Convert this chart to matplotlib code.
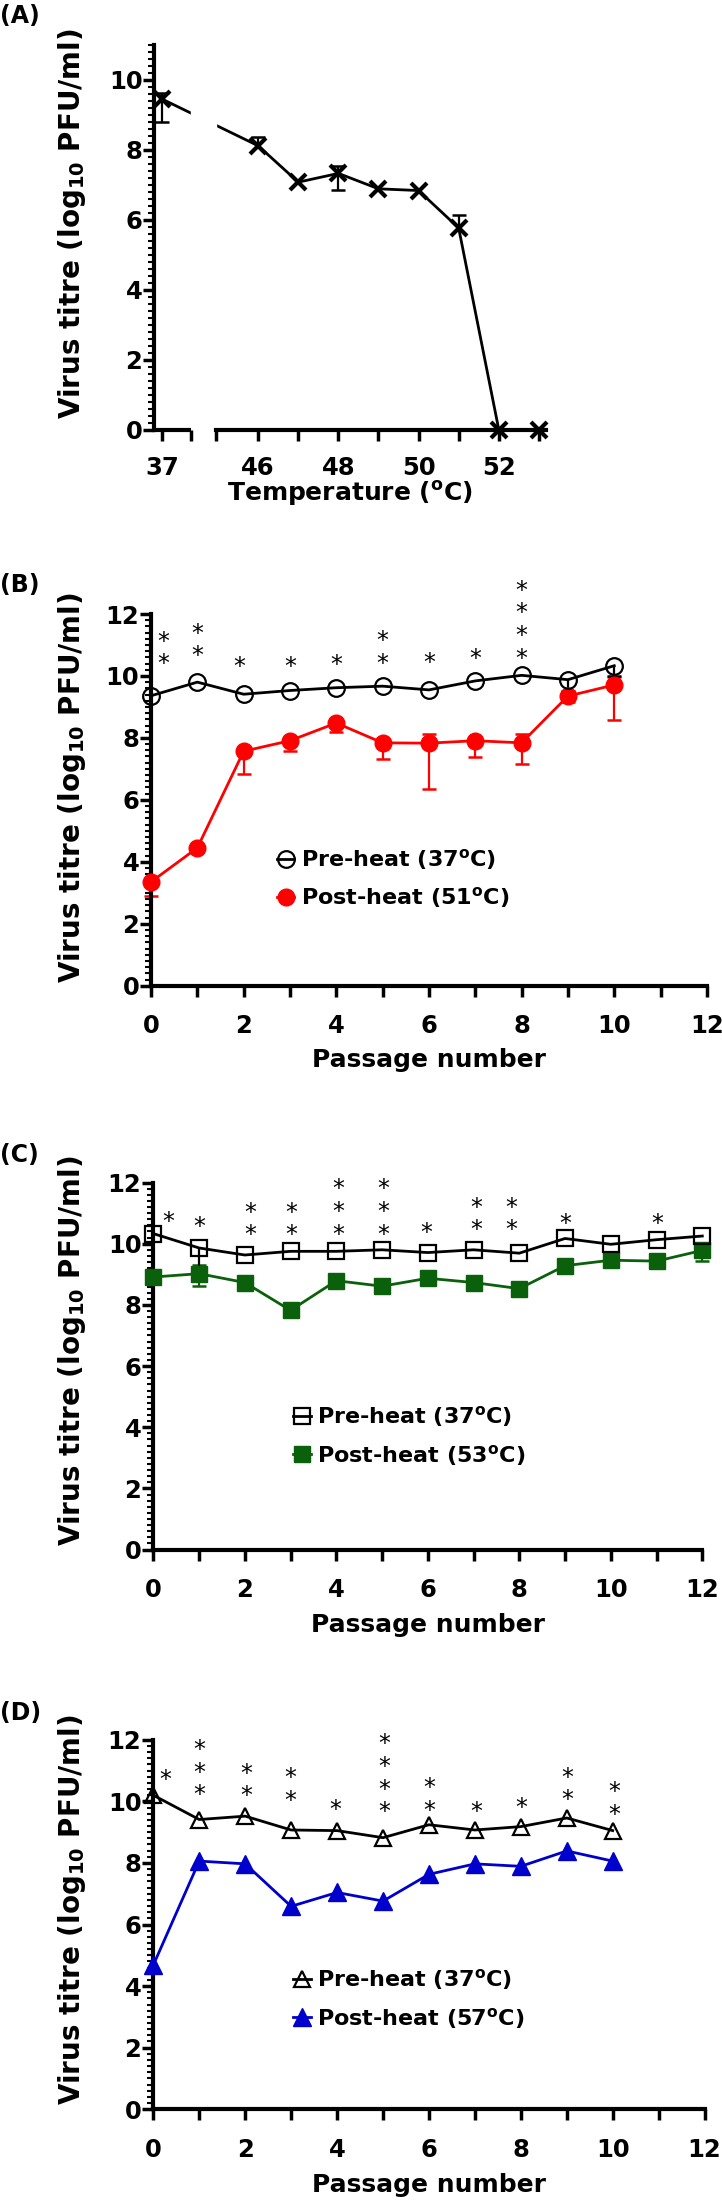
import numpy as np
import matplotlib
matplotlib.use('Agg')
import matplotlib.pyplot as plt
from matplotlib.ticker import MultipleLocator

plt.rcParams['font.family'] = ['DejaVu Sans']
plt.rcParams['font.weight'] = 'bold'
plt.rcParams['axes.labelweight'] = 'bold'
plt.rcParams['mathtext.fontset'] = 'custom'
plt.rcParams['mathtext.rm'] = 'DejaVu Sans:bold'
plt.rcParams['mathtext.it'] = 'DejaVu Sans:bold'
plt.rcParams['mathtext.bf'] = 'DejaVu Sans:bold'
plt.rcParams['axes.linewidth'] = 3

nan = np.nan

# ---------------- data ----------------
# (A) titre after 1 h at each temperature
temp_a = [37, 46, 47, 48, 49, 50, 51, 52, 53]
titre_a = [9.44, 8.11, 7.07, 7.32, 6.88, 6.83, 5.76, 0, 0]
lo_a = [0.66, nan, nan, 0.47, nan, nan, nan, nan, nan]
hi_a = [0.18, 0.26, nan, 0.20, nan, nan, 0.38, nan, nan]

# (B) 51 C selection
pass_b = list(range(11))
pre_b = [9.36, 9.80, 9.41, 9.53, 9.62, 9.67, 9.55, 9.84, 10.02, 9.88, 10.33]
pre_b_lo = [nan] * 9 + [0.35, 0.32]
post_b = [3.35, 4.45, 7.57, 7.91, 8.48, 7.84, 7.83, 7.91, 7.84, 9.35, 9.71]
post_b_lo = [0.47, nan, 0.72, 0.32, 0.28, 0.52, 1.48, 0.52, 0.69, 0.18, 1.13]
post_b_hi = [nan, nan, nan, nan, nan, nan, 0.30, nan, 0.27, nan, 0.27]
star_x_b = [0.27, 1, 1.9, 3, 4, 5, 6, 7, 8]
star_n_b = [2, 2, 1, 1, 1, 2, 1, 1, 4]
star_y_b = [10.61, 10.87, 10.54, 10.54, 10.59, 10.63, 10.66, 10.78, 10.80]

# (C) 53 C selection
pass_c = list(range(13))
pre_c = [10.33, 9.86, 9.63, 9.75, 9.75, 9.80, 9.71, 9.80, 9.69, 10.17, 9.98, 10.13, 10.25]
pre_c_lo = [nan, 0.78] + [nan] * 11
post_c = [8.91, 9.02, 8.73, 7.82, 8.79, 8.61, 8.87, 8.73, 8.53, 9.28, 9.46, 9.43, 9.78]
post_c_lo = [nan, 0.41] + [nan] * 10 + [0.35]
post_c_hi = [nan, 0.29] + [nan] * 11
star_x_c = [0.32, 1, 2.11, 3.02, 4.05, 5.03, 5.96, 7.05, 7.82, 9.01, 11.02]
star_n_c = [1, 1, 2, 2, 3, 3, 1, 2, 2, 1, 1]
star_y_c = [10.95, 10.77, 10.51, 10.51, 10.54, 10.54, 10.60, 10.68, 10.68, 10.87, 10.87]

# (D) 57 C selection
pass_d = list(range(11))
pre_d = [10.20, 9.41, 9.52, 9.07, 9.05, 8.82, 9.24, 9.07, 9.18, 9.46, 9.05]
post_d = [4.68, 8.06, 7.97, 6.59, 7.04, 6.76, 7.63, 7.97, 7.89, 8.39, 8.06]
star_x_d = [0.27, 1, 2.03, 2.98, 3.96, 5.03, 6, 7.02, 8, 9, 10.03]
star_n_d = [1, 3, 2, 2, 1, 4, 2, 1, 1, 2, 2]
star_y_d = [10.93, 10.44, 10.40, 10.26, 9.95, 9.88, 9.93, 9.88, 10.03, 10.27, 9.80]

W, H = 722, 2204
fig = plt.figure(figsize=(W / 100, H / 100), dpi=100)


def add_ax(l, t, r, b):
    return fig.add_axes([l / W, 1 - b / H, (r - l) / W, (b - t) / H])


def errbars(ax, x, y, lo, hi, color):
    x = np.asarray(x, float)
    y = np.asarray(y, float)
    for err, sign in ((lo, -1), (hi, 1)):
        if err is None:
            continue
        end = y + sign * np.asarray(err, float)
        ok = ~np.isnan(end)
        ax.vlines(x[ok], y[ok], end[ok], color=color, lw=1.6, zorder=2, clip_on=False)
        ax.plot(x[ok], end[ok], ls='none', marker='_', ms=10, mew=1.8,
                color=color, zorder=2, clip_on=False)


def stars(ax, xs, counts, ybase, fs=17):
    # one text per stack, bottom star centred on ybase
    for x, n, y in zip(xs, counts, ybase):
        ax.annotate('\n'.join(['*'] * n), (x, y), xytext=(0, -0.82 * fs),
                    textcoords='offset points', ha='center', va='bottom',
                    fontsize=fs, fontweight='normal', linespacing=0.93,
                    annotation_clip=False)


def style(ax, ytop):
    for s in ('top', 'right'):
        ax.spines[s].set_visible(False)
    ax.set_ylim(0, ytop)
    ax.yaxis.set_major_locator(MultipleLocator(2))
    ax.yaxis.set_minor_locator(MultipleLocator(0.2))
    ax.tick_params(which='major', length=8, width=2.5, labelsize=17.5)
    ax.tick_params(axis='y', which='minor', length=4, width=1.5)
    ax.tick_params(axis='x', which='minor', length=8, width=2.5)
    ax.tick_params(axis='y', pad=0.5)


ylab = 'Virus titre (log$_{10}$ PFU/ml)'

# ---------------- (A) ----------------
ax = add_ax(154.3, 44.6, 545.7, 429.6)
style(ax, 11)
fwd = lambda x: np.where(x <= 38, x + 6.61, np.maximum(x, 44.61))
inv = lambda t: np.where(t <= 44.61, t - 6.61, t)
ax.set_xscale('function', functions=(fwd, inv))
ax.set_xlim(36.8, 53.17)
ax.set_xticks([37, 46, 48, 50, 52], labels=['37', '46', '48', '50', '52'])
ax.set_xticks([37.71, 44.95, 47, 49, 51, 53], minor=True)
ax.tick_params(axis='x', pad=11)
ax.spines['bottom'].set_bounds(44.95, 53.17)
ax.plot([36.8, 37.71], [0, 0], color='k', lw=3, solid_capstyle='butt',
        clip_on=False, zorder=3)
errbars(ax, temp_a, titre_a, lo_a, hi_a, 'k')
ax.plot(temp_a, titre_a, color='k', lw=2, marker='x', ms=11, mew=3,
        clip_on=False, zorder=2)
ax.axvspan(37.71, 44.95, color='white', zorder=2.5)
ax.set_ylabel(ylab, fontsize=20)
ax.yaxis.set_label_coords(-0.169, 0.534)
ax.set_xlabel('Temperature ($^{\\mathrm{o}}$C)', fontsize=18)
ax.xaxis.set_label_coords(0.5, -0.128)


def passage_panel(t, b, r, pre, post, passes, pre_kw, post_kw, leg_xy, labels,
                  pre_lo=None, post_lo=None, post_hi=None, post_color='k'):
    ax = add_ax(151 if t < 700 else 153.3, t, r, b)
    style(ax, 12)
    ax.set_xlim(0, 12)
    ax.xaxis.set_major_locator(MultipleLocator(2))
    ax.xaxis.set_minor_locator(MultipleLocator(1))
    ax.tick_params(axis='x', pad=12.5)
    errbars(ax, passes, post, post_lo, post_hi, post_color)
    errbars(ax, passes, pre, pre_lo, None, 'k')
    h2, = ax.plot(passes, post, lw=2, clip_on=False, zorder=3, **post_kw)
    h1, = ax.plot(passes, pre, lw=2, color='k', mfc='none', clip_on=False,
                  zorder=4, **pre_kw)
    ax.legend([h1, h2], labels, loc='center left', bbox_to_anchor=leg_xy,
              frameon=False, fontsize=16, handlelength=0.8, handletextpad=0.3,
              labelspacing=0.6, borderpad=0, borderaxespad=0)
    ax.set_ylabel(ylab, fontsize=20)
    ax.set_xlabel('Passage number', fontsize=18)
    return ax


# ---------------- (B) ----------------
axb = passage_panel(614.0, 985.7, 706.9, pre_b, post_b, pass_b,
                    dict(marker='o', ms=12, mew=1.6),
                    dict(marker='o', ms=12, color='#ff0000'),
                    (0.226, 0.288),
                    ['Pre-heat (37$^{\\mathrm{o}}$C)', 'Post-heat (51$^{\\mathrm{o}}$C)'],
                    pre_lo=pre_b_lo, post_lo=post_b_lo, post_hi=post_b_hi,
                    post_color='#ff0000')
axb.yaxis.set_label_coords(-0.113, 0.532)
axb.xaxis.set_label_coords(0.5, -0.168)
stars(axb, star_x_b, star_n_b, star_y_b)

# ---------------- (C) ----------------
axc = passage_panel(1182.5, 1549.6, 702.3, pre_c, post_c, pass_c,
                    dict(marker='s', ms=11, mew=1.6),
                    dict(marker='s', ms=11, color='#0b600b'),
                    (0.254, 0.309),
                    ['Pre-heat (37$^{\\mathrm{o}}$C)', 'Post-heat (53$^{\\mathrm{o}}$C)'],
                    pre_lo=pre_c_lo, post_lo=post_c_lo, post_hi=post_c_hi,
                    post_color='#0b600b')
axc.yaxis.set_label_coords(-0.119, 0.541)
axc.xaxis.set_label_coords(0.5, -0.174)
stars(axc, star_x_c, star_n_c, star_y_c)

# ---------------- (D) ----------------
axd = passage_panel(1739.8, 2109.2, 704.6, pre_d, post_d, pass_d,
                    dict(marker='^', ms=12, mew=1.6),
                    dict(marker='^', ms=13, color='#0000cd'),
                    (0.253, 0.298),
                    ['Pre-heat (37$^{\\mathrm{o}}$C)', 'Post-heat (57$^{\\mathrm{o}}$C)'])
axd.yaxis.set_label_coords(-0.119, 0.539)
axd.xaxis.set_label_coords(0.5, -0.174)
stars(axd, star_x_d, star_n_d, star_y_d)

for lab, top in (('(A)', 4), ('(B)', 573), ('(C)', 1143), ('(D)', 1701)):
    fig.text(0.0, 1 - top / H, lab, ha='left', va='top', fontsize=17)

fig.savefig('out.png', dpi=100)
